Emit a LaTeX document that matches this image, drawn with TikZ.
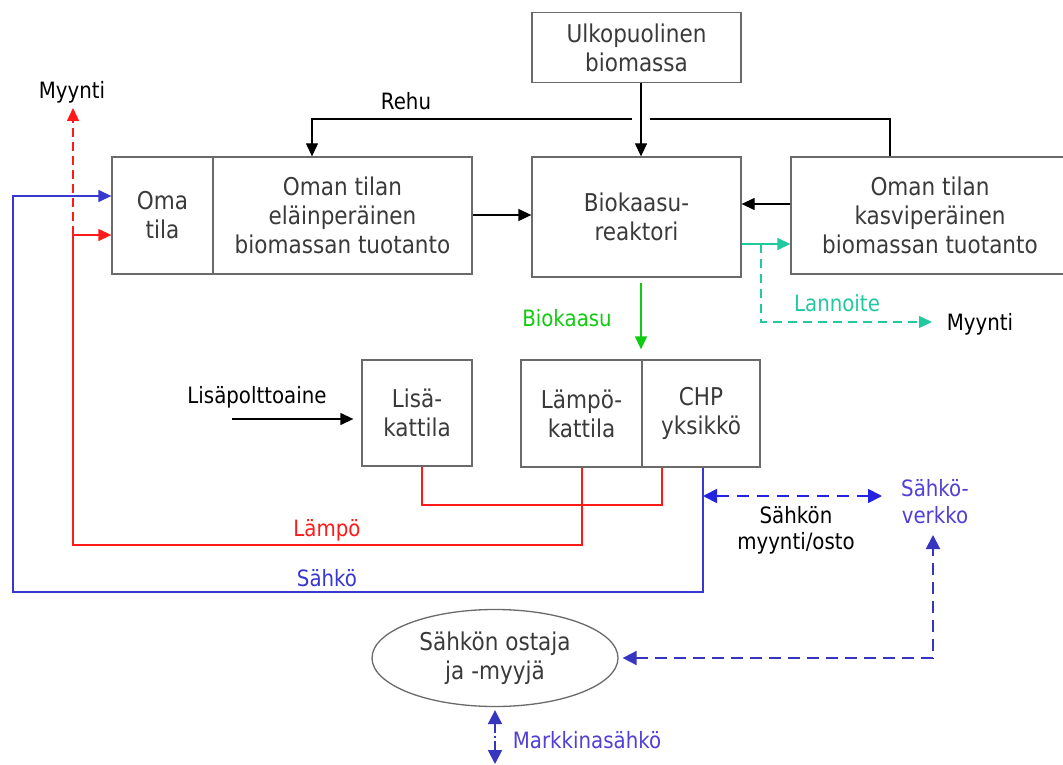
\documentclass[tikz,border=0pt]{standalone}
\usepackage{fontspec}
\setmainfont{DejaVu Sans}[FakeStretch=0.88]
\usetikzlibrary{arrows.meta,shapes.geometric,calc}
\definecolor{boxline}{HTML}{6A6A6A}
\definecolor{boxtext}{HTML}{3A3A3A}
\definecolor{myred}{HTML}{FF1A1A}
\definecolor{myblue}{HTML}{3838D0}
\definecolor{dblue}{HTML}{2424E0}
\definecolor{gblue}{HTML}{3535C0}
\definecolor{vblue}{HTML}{5040D8}
\definecolor{tealc}{HTML}{22C8A0}
\definecolor{greenc}{HTML}{10CC10}
\tikzset{
  box/.style={draw=boxline, line width=1.3pt, text=boxtext, align=center,
    font=\fontsize{24.5}{29}\selectfont, inner sep=0pt},
  lbl/.style={font=\fontsize{22.5}{26}\selectfont, align=center, inner sep=0pt},
  clbl/.style={font=\fontsize{22.5}{27}\selectfont, align=center, inner sep=0pt},
  tip/.style={-{Triangle[length=13pt,width=12pt]}},
  dtip/.style={{Triangle[length=14pt,width=14pt]}-{Triangle[length=14pt,width=14pt]}},
  blk/.style={line width=1.3pt, black},
  lw/.style={line width=1.3pt},
}
\begin{document}
\begin{tikzpicture}[x=1pt,y=-1pt]
\useasboundingbox (0,0) rectangle (1063,765);
\fill[white] (0,0) rectangle (1063,765);

% boxes
\node[box, minimum width=209pt, minimum height=70pt] (ulko) at (636.5,47.5) {Ulkopuolinen\\biomassa};
\node[box, minimum width=101pt, minimum height=117pt] (oma) at (162.5,215.5) {Oma\\tila};
\node[box, minimum width=259pt, minimum height=117pt] (elain) at (342.5,215.5) {Oman tilan\\eläinperäinen\\biomassan tuotanto};
\node[box, minimum width=209pt, minimum height=120pt] (bio) at (636.5,217) {Biokaasu-\\reaktori};
\node[box, minimum width=278pt, minimum height=117pt] (kasvi) at (930,215.5) {Oman tilan\\kasviperäinen\\biomassan tuotanto};
\node[box, minimum width=110pt, minimum height=106pt] (lisa) at (417,413) {Lisä-\\kattila};
\node[box, minimum width=121pt, minimum height=107pt] (lampo) at (581.5,413.5) {Lämpö-\\kattila};
\node[box, minimum width=118pt, minimum height=107pt] (chp) at (701,413.5) {CHP\\yksikkö};
\node[box, ellipse, minimum width=246pt, minimum height=97pt] (ostaja) at (495,658) {Sähkön ostaja\\ja -myyjä};

% labels
\node[lbl] (myynti1) at (72,92) {Myynti};
\node[lbl] (rehu) at (406,101) {Rehu};
\node[lbl] (myynti2) at (980,324) {Myynti};
\node[lbl] (lisap) at (257,397) {Lisäpolttoaine};
\node[lbl] (smo) at (796,530) {Sähkön\\myynti/osto};
\node[clbl, text=greenc] (biokl) at (567,318) {Biokaasu};
\node[clbl, text=tealc] (lann) at (837,303) {Lannoite};
\node[clbl, text=myred] (lampol) at (327,530) {Lämpö};
\node[clbl, text=myblue] (sahkol) at (327,578) {Sähkö};
\node[clbl, text=vblue] (verkko) at (935,502) {Sähkö-\\verkko};
\node[clbl, text=vblue] (markk) at (587,740) {Markkinasähkö};

% helper coordinates
\coordinate (ux) at (641,0);
\coordinate (r1) at (312,119);
\coordinate (r2) at (890,119);
\coordinate (g1) at (632,119);
\coordinate (g2) at (650,119);
\coordinate (y215) at (0,215);
\coordinate (y204) at (0,204);
\coordinate (ty) at (0,244);
\coordinate (t1) at (761,244);
\coordinate (t2) at (761,322);
\coordinate (t3) at (932,322);
\coordinate (lp) at (232,419);
\coordinate (ra) at (422,505);
\coordinate (rb) at (662,505);
\coordinate (rc) at (582,545);
\coordinate (rd) at (73,545);
\coordinate (re) at (73,235);
\coordinate (rf) at (73,108);
\coordinate (ba) at (703,592);
\coordinate (bb) at (13,592);
\coordinate (bc) at (13,196);
\coordinate (d1) at (703,496);
\coordinate (d2) at (882,496);
\coordinate (e1) at (933,658);
\coordinate (e2) at (933,535);
\coordinate (mk) at (495,764);

% black connectors
\draw[blk,tip] (ulko.south -| ux) -- (bio.north -| ux);
\draw[blk] (kasvi.north -| r2) -- (r2) -- (g2);
\draw[blk,tip] (g1) -- (r1) -- (elain.north -| r1);
\draw[blk,tip] (elain.east |- y215) -- (bio.west |- y215);
\draw[blk,tip] (kasvi.west |- y204) -- (bio.east |- y204);
\draw[blk,tip,shorten >=8pt] (lp) -- (lisa.west |- lp);

% teal
\draw[tealc,lw,tip] (bio.east |- ty) -- (kasvi.west |- ty);
\draw[tealc,lw,dash pattern=on 9pt off 6pt,tip] (t1) -- (t2) -- (t3);

% green
\draw[greenc,lw,tip,shorten <=5pt,shorten >=10pt] (bio.south -| ux) -- (chp.north -| ux);

% red
\draw[myred,lw] (lisa.south -| ra) -- (ra) -- (rb) -- (chp.south -| rb);
\draw[myred,lw] (lampo.south -| rc) -- (rc) -- (rd) -- (re);
\draw[myred,lw,tip] (re) -- (oma.west |- re);
\draw[myred,lw,dash pattern=on 9pt off 5pt,tip] (re) -- (rf);

% blue
\draw[myblue,lw,tip] (chp.south -| ba) -- (ba) -- (bb) -- (bc) -- (oma.west |- bc);
\draw[dblue,line width=1.8pt,dash pattern=on 12pt off 8pt,dtip] (d1) -- (d2);
\draw[gblue,line width=2pt,dash pattern=on 12pt off 7pt,dtip,shorten <=4pt] (ostaja.east) -- (e1) -- (e2);
\draw[gblue,line width=2pt,dash pattern=on 9pt off 3pt on 2pt off 3pt,dtip,shorten <=3pt] (ostaja.south) -- (mk);
\end{tikzpicture}
\end{document}
